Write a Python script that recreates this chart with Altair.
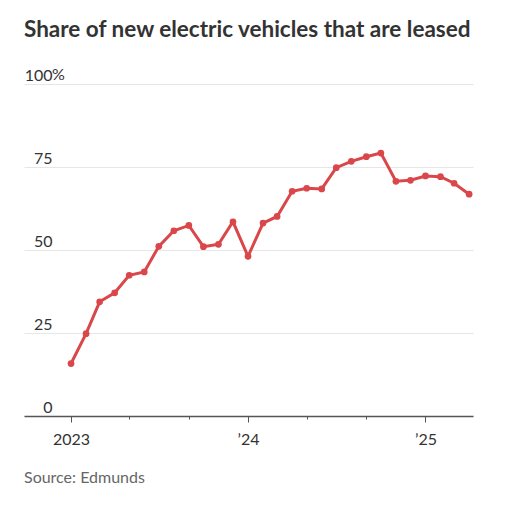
import altair as alt
import pandas as pd

months = pd.date_range("2023-01-01", "2025-04-01", freq="MS").strftime("%Y-%m-%d").tolist()
share = [15.8, 24.8, 34.4, 37.1, 42.4, 43.4, 51.1, 55.8, 57.4, 51.0, 51.7, 58.5,
         48.1, 58.1, 60.1, 67.7, 68.6, 68.4, 74.8, 76.7, 78.1, 79.2, 70.7, 71.0,
         72.3, 72.1, 70.1, 66.8]
y_ticks = [0, 25, 50, 75, 100]

df = pd.DataFrame({"date": months, "share": share})

RED = "#d9474b"
FONT = "Lato"

x_enc = alt.X(
    "date:T",
    scale=alt.Scale(type="utc", domain=["2022-09-26", "2025-04-09"]),
    axis=alt.Axis(
        values=months,
        title=None,
        grid=False,
        domainColor="#555555",
        domainWidth=1.5,
        tickColor="#555555",
        tickWidth=1,
        tickSize=alt.ExprRef(expr="utcmonth(datum.value) == 0 ? 6 : 3"),
        labelExpr="utcmonth(datum.value) == 0 ? (utcyear(datum.value) == 2023 ? '2023' : '\u2019' + substring(toString(utcyear(datum.value)), 2, 4)) : ''",
        labelFont=FONT,
        labelFontSize=16,
        labelColor="#333333",
        labelBaseline="alphabetic",
        labelPadding=22,
        labelFlush=False,
        labelOverlap=False,
    ),
)

y_enc = alt.Y(
    "share:Q",
    scale=alt.Scale(domain=[0, 100]),
    axis=alt.Axis(
        values=y_ticks,
        title=None,
        domain=False,
        ticks=False,
        tickSize=0,
        grid=True,
        gridColor="#e6e6e6",
        gridWidth=1,
        labelAlign="right",
        labelBaseline="alphabetic",
        labelPadding=-28,
        labelOffset=-4,
        labelFont=FONT,
        labelFontSize=16,
        labelColor="#333333",
    ),
)

base = alt.Chart(df)
line = base.mark_line(color=RED, strokeWidth=3).encode(x=x_enc, y=y_enc)
pts = base.mark_circle(color=RED, size=45, opacity=1).encode(x="date:T", y="share:Q")

pct = alt.Chart(pd.DataFrame({"v": [100], "t": ["%"]})).mark_text(
    align="left", baseline="alphabetic", dy=-4, font=FONT, fontSize=16, color="#333333"
).encode(y="v:Q", x=alt.value(28), text="t:N")

source = alt.Chart(pd.DataFrame({"t": ["Source: Edmunds"]})).mark_text(
    align="left", baseline="alphabetic", font=FONT, fontSize=16, color="#666666"
).encode(x=alt.value(0), y=alt.value(399), text="t:N")

chart = alt.layer(line, pts, pct, source).properties(
    width=449,
    height=332,
    autosize=alt.AutoSizeParams(type="none"),
    padding={"left": 16, "top": 76, "right": 25, "bottom": 90},
    title=alt.TitleParams(
        "Share of new electric vehicles that are leased",
        anchor="start",
        frame="group",
        font=FONT,
        fontSize=22.5,
        fontWeight="bold",
        color="#333333",
        offset=26,
    ),
).configure_view(stroke=None)

chart.save("out.html", embed_options={"renderer": "svg", "actions": False})
